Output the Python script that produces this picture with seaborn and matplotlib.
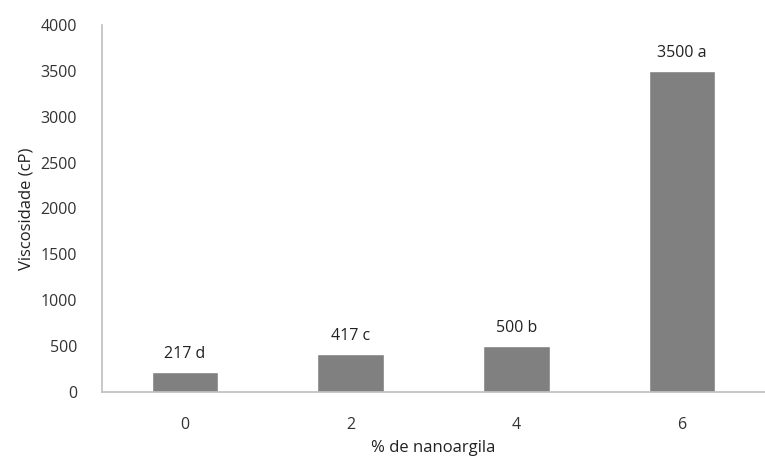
import matplotlib
matplotlib.use("Agg")
import matplotlib.pyplot as plt
import seaborn as sns
import pandas as pd

# viscosidade por teor de nanoargila
nanoargila = ["0", "2", "4", "6"]
viscosidade = [217, 417, 500, 3500]
letras = ["d", "c", "b", "a"]

df = pd.DataFrame({"nano": nanoargila, "visc": viscosidade})

sns.set_style("white")
plt.rcParams['font.family'] = ['Open Sans', 'DejaVu Sans']

fig = plt.figure(figsize=(7.65, 4.62), dpi=100)
ax = fig.add_axes([102/765, 1 - 392/462, (765-102)/765, (392-25)/462])

sns.barplot(data=df, x="nano", y="visc", color="#808080", saturation=1,
            width=0.4, ax=ax)

for i, (v, l) in enumerate(zip(viscosidade, letras)):
    ax.annotate(f"{v} {l}", (i, v), xytext=(0, 7), textcoords="offset points",
                ha="center", va="bottom", fontsize=11.5, color="#222222")

ax.set_ylim(0, 4000)
ax.set_xlim(-0.5, 3.5)
ax.set_yticks(range(0, 4001, 500))
ax.tick_params(axis="both", length=0, labelsize=11.5, colors="#333333")
ax.tick_params(axis="x", pad=18)
ax.tick_params(axis="y", pad=18)
for s in ["top", "right"]:
    ax.spines[s].set_visible(False)
for s in ["left", "bottom"]:
    ax.spines[s].set_color("#bfbfbf")
    ax.spines[s].set_linewidth(1.2)
ax.set_xlabel("% de nanoargila", fontsize=12, color="#222222", labelpad=5)
ax.set_ylabel("Viscosidade (cP)", fontsize=12, color="#222222", labelpad=4)

fig.savefig("out.png", dpi=100)
